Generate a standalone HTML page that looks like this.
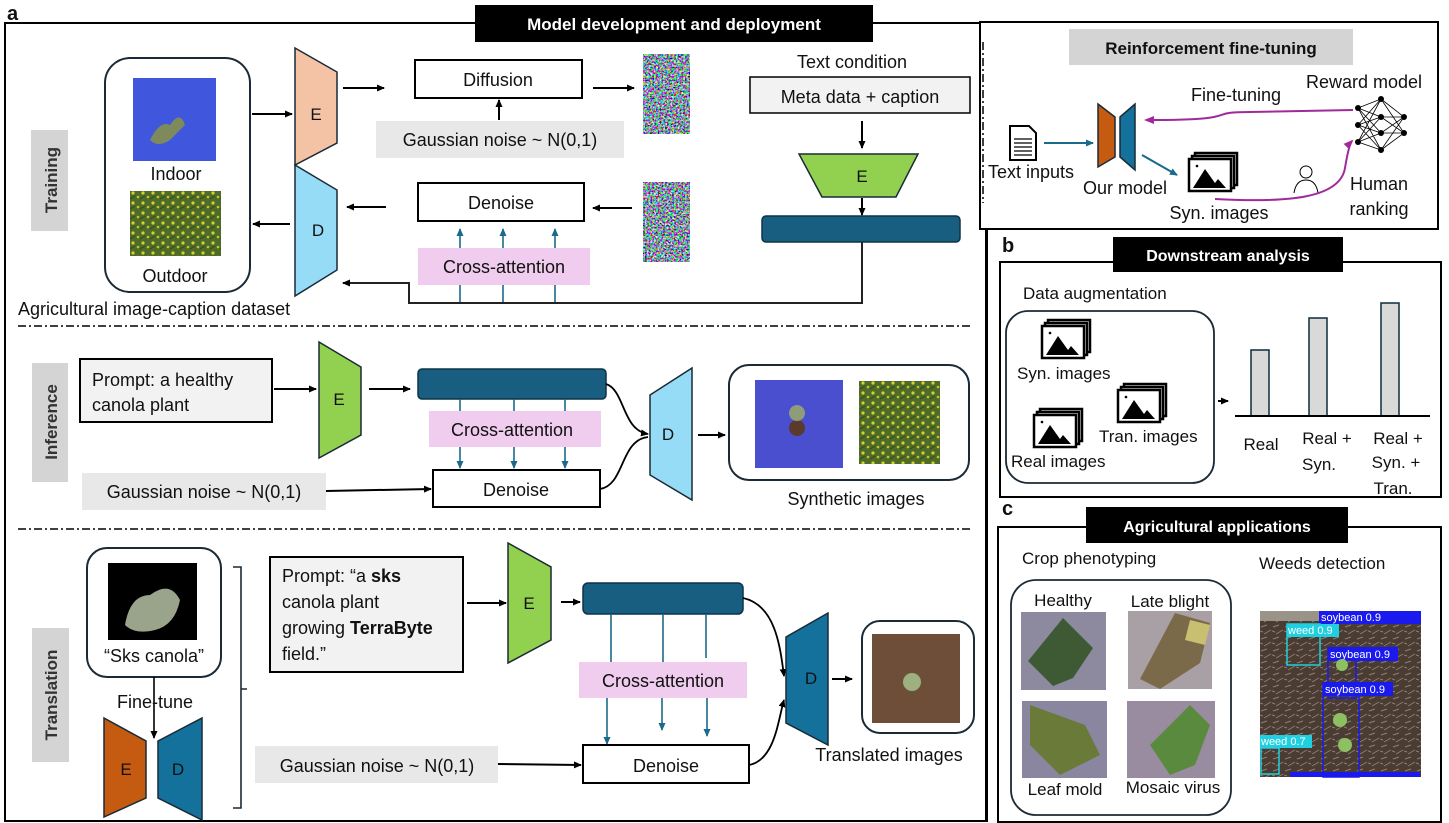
<!DOCTYPE html>
<html><head><meta charset="utf-8"><style>
html,body{margin:0;padding:0;background:#fff}
svg{display:block}
text{font-family:"Liberation Sans",sans-serif;fill:#111}
.t{font-size:17px}
.b{font-weight:bold}
.n{font-size:18px}
</style></head><body>
<svg width="1449" height="823" viewBox="0 0 1449 823" xmlns="http://www.w3.org/2000/svg">
<defs>
<marker id="ak" markerWidth="8" markerHeight="8" refX="7" refY="4" orient="auto" markerUnits="userSpaceOnUse"><path d="M0,0.5 L8,4 L0,7.5 Z" fill="#000"/></marker>
<marker id="ab" markerWidth="8" markerHeight="8" refX="7" refY="4" orient="auto" markerUnits="userSpaceOnUse"><path d="M0,0.5 L8,4 L0,7.5 Z" fill="#1a6a8c"/></marker>
<marker id="ap" markerWidth="10" markerHeight="10" refX="8" refY="5" orient="auto" markerUnits="userSpaceOnUse"><path d="M0,1 L10,5 L0,9 Z" fill="#a02a9a"/></marker>
<filter id="noise" x="0" y="0" width="100%" height="100%"><feTurbulence type="fractalNoise" baseFrequency="0.55" numOctaves="2" seed="3"/><feColorMatrix type="matrix" values="4 -1 0 0 -1.2  -1 4 0 0 -1.1  0 -1 4 0 -1.0  0 0 0 0 1"/></filter>
<pattern id="soil" width="12" height="12" patternUnits="userSpaceOnUse"><rect width="12" height="12" fill="#4a3c33"/><path d="M1,3 l6,-2 M4,10 l7,-4 M0,7 l3,1" stroke="#8d7e70" stroke-width="1"/></pattern>
<pattern id="flow" width="10" height="10" patternUnits="userSpaceOnUse"><rect width="10" height="10" fill="#4e6b2a"/><circle cx="3" cy="3" r="1.6" fill="#d6d02a"/><circle cx="8" cy="7" r="1.3" fill="#c6c425"/><path d="M0,9 l5,-3" stroke="#2f4a1a"/></pattern>
<g id="imgs"><rect x="6" y="0" width="42" height="32" fill="#fff" stroke="#000" stroke-width="2.5"/><rect x="3" y="3" width="42" height="32" fill="#fff" stroke="#000" stroke-width="2.5"/><rect x="0" y="6" width="42" height="32" fill="#fff" stroke="#000" stroke-width="2.5"/><path d="M4,35 L16,16 L26,30 L29,26 L37,35 Z" fill="#000"/><circle cx="8" cy="13" r="1.3" fill="#000"/></g>
</defs>

<text x="7" y="20" style="font-size:20px" class="b">a</text>
<path d="M5,822 V23 H980" fill="none" stroke="#000" stroke-width="2"/>
<path d="M5,821 H987 V229" fill="none" stroke="#000" stroke-width="2"/>
<rect x="475" y="5" width="398" height="37" fill="#000"/>
<text x="674" y="30" text-anchor="middle" class="b" style="fill:#fff;font-size:17px">Model development and deployment</text>
<line x1="983" y1="42" x2="983" y2="203" stroke="#000" stroke-width="1.5" stroke-dasharray="8,3,2,3"/>
<line x1="18" y1="326" x2="970" y2="326" stroke="#000" stroke-width="1.5" stroke-dasharray="8,3,2,3"/>
<line x1="18" y1="529" x2="970" y2="529" stroke="#000" stroke-width="1.5" stroke-dasharray="8,3,2,3"/>

<rect x="31" y="130" width="37" height="101" fill="#d4d4d4"/>
<text transform="translate(57,180) rotate(-90)" text-anchor="middle" class="b" style="font-size:17px;fill:#333">Training</text>
<rect x="105" y="58" width="145" height="234" rx="25" fill="#fff" stroke="#1a2a36" stroke-width="2"/>
<rect x="133" y="78" width="83" height="83" fill="#3f56dd"/>
<path d="M150,140 q10,-20 20,-15 q10,-15 15,0 q-10,10 -15,15 q-12,8 -20,0z" fill="#7e8a5c"/>
<text x="176" y="180" text-anchor="middle" class="n">Indoor</text>
<rect x="130" y="191" width="91" height="65" fill="url(#flow)"/>
<text x="175" y="282" text-anchor="middle" class="n">Outdoor</text>
<text x="18" y="315" class="n">Agricultural image-caption dataset</text>
<polygon points="295,48 337,72 337,143 295,165" fill="#f4c3a6" stroke="#1a2a36" stroke-width="1.5"/>
<polygon points="295,165 337,190 337,270 295,296" fill="#97dcf6" stroke="#1a2a36" stroke-width="1.5"/>
<text x="316" y="120" text-anchor="middle" class="t">E</text>
<text x="318" y="236" text-anchor="middle" class="t">D</text>
<line x1="252" y1="114" x2="292" y2="114" stroke="#000" stroke-width="2" marker-end="url(#ak)"/>
<line x1="290" y1="224" x2="253" y2="224" stroke="#000" stroke-width="2" marker-end="url(#ak)"/>
<line x1="343" y1="88" x2="384" y2="88" stroke="#000" stroke-width="2" marker-end="url(#ak)"/>
<rect x="415" y="60" width="167" height="38" fill="#fff" stroke="#000" stroke-width="2"/>
<text x="498" y="86" text-anchor="middle" class="n">Diffusion</text>
<rect x="376" y="121" width="248" height="37" fill="#e8e8e8"/>
<text x="500" y="146" text-anchor="middle" class="n">Gaussian noise ~ N(0,1)</text>
<line x1="499" y1="120" x2="499" y2="100" stroke="#000" stroke-width="2" marker-end="url(#ak)"/>
<line x1="593" y1="88" x2="634" y2="88" stroke="#000" stroke-width="2" marker-end="url(#ak)"/>
<rect x="643" y="54" width="47" height="80" filter="url(#noise)"/>
<rect x="643" y="182" width="47" height="80" filter="url(#noise)"/>
<line x1="632" y1="208" x2="593" y2="208" stroke="#000" stroke-width="2" marker-end="url(#ak)"/>
<rect x="418" y="183" width="166" height="38" fill="#fff" stroke="#000" stroke-width="2"/>
<text x="501" y="209" text-anchor="middle" class="n">Denoise</text>
<line x1="386" y1="207" x2="347" y2="207" stroke="#000" stroke-width="2" marker-end="url(#ak)"/>
<rect x="418" y="248" width="172" height="37" fill="#f0cdef"/>
<text x="504" y="273" text-anchor="middle" class="n">Cross-attention</text>
<g stroke="#1a6a8c" stroke-width="1.6">
<line x1="460" y1="248" x2="460" y2="229" marker-end="url(#ab)"/><line x1="503" y1="248" x2="503" y2="229" marker-end="url(#ab)"/><line x1="555" y1="248" x2="555" y2="229" marker-end="url(#ab)"/>
<line x1="460" y1="285" x2="460" y2="303"/><line x1="503" y1="285" x2="503" y2="303"/><line x1="555" y1="285" x2="555" y2="303"/>
</g>
<path d="M862,242 V303 H409 V283 H343" fill="none" stroke="#222" stroke-width="2" marker-end="url(#ak)"/>
<text x="852" y="68" text-anchor="middle" class="n">Text condition</text>
<rect x="750" y="77" width="220" height="36" fill="#f2f2f2" stroke="#000" stroke-width="1.5"/>
<text x="860" y="103" text-anchor="middle" class="n">Meta data + caption</text>
<line x1="862" y1="121" x2="862" y2="148" stroke="#000" stroke-width="2" marker-end="url(#ak)"/>
<polygon points="799,154 918,154 896,197 822,197" fill="#92d050" stroke="#1a2a36" stroke-width="1.5"/>
<text x="862" y="182" text-anchor="middle" class="t">E</text>
<line x1="862" y1="198" x2="862" y2="215" stroke="#000" stroke-width="2" marker-end="url(#ak)"/>
<rect x="762" y="216" width="198" height="26" rx="4" fill="#175e80" stroke="#0d3347" stroke-width="1.5"/>

<rect x="32" y="363" width="36" height="119" fill="#d4d4d4"/>
<text transform="translate(57,422) rotate(-90)" text-anchor="middle" class="b" style="font-size:17px;fill:#333">Inference</text>
<rect x="80" y="359" width="192" height="63" fill="#f2f2f2" stroke="#000" stroke-width="2"/>
<text x="92" y="386" class="n">Prompt: a healthy</text>
<text x="92" y="411" class="n">canola plant</text>
<line x1="274" y1="389" x2="316" y2="389" stroke="#000" stroke-width="2" marker-end="url(#ak)"/>
<polygon points="319,342 361,367 361,435 319,458" fill="#92d050" stroke="#1a2a36" stroke-width="1.5"/>
<text x="339" y="405" text-anchor="middle" class="t">E</text>
<line x1="369" y1="389" x2="410" y2="389" stroke="#000" stroke-width="2" marker-end="url(#ak)"/>
<rect x="418" y="369" width="188" height="30" rx="4" fill="#175e80" stroke="#0d3347" stroke-width="1.5"/>
<g stroke="#1a6a8c" stroke-width="1.6">
<line x1="460" y1="399" x2="460" y2="411"/><line x1="514" y1="399" x2="514" y2="411"/><line x1="565" y1="399" x2="565" y2="411"/>
<line x1="460" y1="447" x2="460" y2="468" marker-end="url(#ab)"/><line x1="514" y1="447" x2="514" y2="468" marker-end="url(#ab)"/><line x1="565" y1="447" x2="565" y2="468" marker-end="url(#ab)"/>
</g>
<rect x="429" y="411" width="172" height="36" fill="#f0cdef"/>
<text x="512" y="436" text-anchor="middle" class="n">Cross-attention</text>
<rect x="433" y="470" width="167" height="37" fill="#fff" stroke="#000" stroke-width="2"/>
<text x="516" y="496" text-anchor="middle" class="n">Denoise</text>
<rect x="82" y="473" width="244" height="37" fill="#e8e8e8"/>
<text x="204" y="498" text-anchor="middle" class="n">Gaussian noise ~ N(0,1)</text>
<line x1="326" y1="491" x2="431" y2="489" stroke="#000" stroke-width="2" marker-end="url(#ak)"/>
<path d="M606,384 C625,390 622,430 648,434" fill="none" stroke="#000" stroke-width="1.8" marker-end="url(#ak)"/>
<path d="M600,489 C625,485 620,440 648,437" fill="none" stroke="#000" stroke-width="1.8"/>
<polygon points="650,395 692,368 692,500 650,475" fill="#97dcf6" stroke="#1a2a36" stroke-width="1.5"/>
<text x="668" y="440" text-anchor="middle" class="t">D</text>
<line x1="698" y1="435" x2="725" y2="435" stroke="#000" stroke-width="2" marker-end="url(#ak)"/>
<rect x="729" y="365" width="240" height="115" rx="20" fill="#fff" stroke="#1a2a36" stroke-width="2"/>
<rect x="755" y="380" width="88" height="88" fill="#4a4fcf"/>
<circle cx="797" cy="428" r="8" fill="#5a3a2a"/><circle cx="797" cy="413" r="8" fill="#8e9c7a"/>
<rect x="859" y="381" width="81" height="83" fill="url(#flow)"/>
<text x="856" y="505" text-anchor="middle" class="n">Synthetic images</text>

<rect x="32" y="628" width="37" height="134" fill="#d4d4d4"/>
<text transform="translate(57,695) rotate(-90)" text-anchor="middle" class="b" style="font-size:17px;fill:#333">Translation</text>
<rect x="87" y="548" width="134" height="129" rx="20" fill="#fff" stroke="#1a2a36" stroke-width="2"/>
<rect x="108" y="563" width="89" height="77" fill="#000"/>
<path d="M125,625 q5,-30 25,-30 q20,-15 30,5 q-5,25 -25,30 q-20,5 -30,-5z" fill="#9aa48a"/>
<text x="154" y="662" text-anchor="middle" class="n">“Sks canola”</text>
<line x1="154" y1="677" x2="154" y2="738" stroke="#000" stroke-width="1.6" marker-end="url(#ak)"/>
<text x="155" y="708" text-anchor="middle" class="n">Fine-tune</text>
<polygon points="104,718 146,741 146,798 104,817" fill="#c55a11" stroke="#1a2a36" stroke-width="1.5"/>
<polygon points="158,741 202,718 202,820 158,798" fill="#13719b" stroke="#1a2a36" stroke-width="1.5"/>
<text x="126" y="775" text-anchor="middle" class="t">E</text>
<text x="178" y="775" text-anchor="middle" class="t">D</text>
<path d="M233,567 h8 V808 h-8 M241,689 h6" fill="none" stroke="#1a2a36" stroke-width="1.6"/>
<rect x="270" y="557" width="193" height="115" fill="#f2f2f2" stroke="#000" stroke-width="2"/>
<text x="282" y="582" class="n">Prompt: “a <tspan class="b">sks</tspan></text>
<text x="282" y="608" class="n">canola plant</text>
<text x="282" y="634" class="n">growing <tspan class="b">TerraByte</tspan></text>
<text x="282" y="660" class="n">field.”</text>
<line x1="467" y1="603" x2="506" y2="603" stroke="#000" stroke-width="2" marker-end="url(#ak)"/>
<polygon points="508,543 551,567 551,640 508,663" fill="#92d050" stroke="#1a2a36" stroke-width="1.5"/>
<text x="529" y="609" text-anchor="middle" class="t">E</text>
<line x1="561" y1="602" x2="580" y2="602" stroke="#000" stroke-width="2" marker-end="url(#ak)"/>
<rect x="583" y="583" width="160" height="31" rx="5" fill="#175e80" stroke="#0d3347" stroke-width="1.5"/>
<g stroke="#1a6a8c" stroke-width="1.6">
<line x1="611" y1="614" x2="611" y2="662"/><line x1="663" y1="614" x2="663" y2="662"/><line x1="706" y1="614" x2="706" y2="658"/>
<line x1="607" y1="698" x2="607" y2="744" marker-end="url(#ab)"/><line x1="662" y1="698" x2="662" y2="730" marker-end="url(#ab)"/><line x1="707" y1="698" x2="707" y2="736" marker-end="url(#ab)"/>
</g>
<rect x="579" y="662" width="168" height="36" fill="#f0cdef"/>
<text x="663" y="687" text-anchor="middle" class="n">Cross-attention</text>
<rect x="583" y="745" width="166" height="38" fill="#fff" stroke="#000" stroke-width="2"/>
<text x="666" y="772" text-anchor="middle" class="n">Denoise</text>
<rect x="255" y="746" width="243" height="37" fill="#e8e8e8"/>
<text x="377" y="772" text-anchor="middle" class="n">Gaussian noise ~ N(0,1)</text>
<line x1="498" y1="764" x2="581" y2="765" stroke="#000" stroke-width="2" marker-end="url(#ak)"/>
<path d="M743,598 C775,605 780,645 784,676" fill="none" stroke="#000" stroke-width="1.8" marker-end="url(#ak)"/>
<path d="M749,765 C775,760 778,720 784,700" fill="none" stroke="#000" stroke-width="1.8" marker-end="url(#ak)"/>
<polygon points="786,637 828,613 828,745 786,723" fill="#13719b" stroke="#1a2a36" stroke-width="1.5"/>
<text x="811" y="684" text-anchor="middle" class="t">D</text>
<line x1="832" y1="679" x2="852" y2="679" stroke="#000" stroke-width="2" marker-end="url(#ak)"/>
<rect x="862" y="621" width="112" height="112" rx="18" fill="#fff" stroke="#1a2a36" stroke-width="2"/>
<rect x="872" y="634" width="88" height="89" fill="#6e4e38"/>
<circle cx="912" cy="682" r="9" fill="#9cb080"/>
<text x="889" y="761" text-anchor="middle" class="n">Translated images</text>

<rect x="980" y="22" width="458" height="207" fill="none" stroke="#000" stroke-width="2"/>
<rect x="1069" y="29" width="284" height="36" fill="#d4d4d4"/>
<text x="1211" y="54" text-anchor="middle" class="b" style="font-size:17px">Reinforcement fine-tuning</text>
<path d="M1010,126 h19 l7,7 v27 h-26 z" fill="#fff" stroke="#000" stroke-width="2"/>
<path d="M1014,139 h18 M1014,143 h18 M1014,147 h18 M1014,151 h18 M1014,155 h18" stroke="#000" stroke-width="1.3"/>
<text x="988" y="178" class="n">Text inputs</text>
<line x1="1044" y1="143" x2="1093" y2="143" stroke="#1a6a8c" stroke-width="2" marker-end="url(#ab)"/>
<polygon points="1098,104 1115,117 1115,157 1098,167" fill="#c55a11" stroke="#1a2a36" stroke-width="1.5"/>
<polygon points="1120,117 1135,104 1135,170 1120,157" fill="#13719b" stroke="#1a2a36" stroke-width="1.5"/>
<text x="1125" y="194" text-anchor="middle" class="n">Our model</text>
<line x1="1142" y1="155" x2="1177" y2="175" stroke="#1a6a8c" stroke-width="2" marker-end="url(#ab)"/>
<use href="#imgs" x="1189" y="153"/>
<text x="1219" y="219" text-anchor="middle" class="n">Syn. images</text>
<path d="M1353,110 L1250,112 C1200,112 1250,120 1146,120" fill="none" stroke="#a02a9a" stroke-width="2" marker-end="url(#ap)"/>
<text x="1236" y="101" text-anchor="middle" class="n">Fine-tuning</text>
<text x="1364" y="88" text-anchor="middle" class="n">Reward model</text>
<g stroke="#000" stroke-width="0.8">
<path d="M1358,108 L1381,99 M1358,108 L1381,117 M1358,108 L1381,133 M1358,108 L1381,150 M1358,125 L1381,99 M1358,125 L1381,117 M1358,125 L1381,133 M1358,125 L1381,150 M1358,142 L1381,99 M1358,142 L1381,117 M1358,142 L1381,133 M1358,142 L1381,150 M1381,99 L1404,117 M1381,117 L1404,117 M1381,133 L1404,117 M1381,150 L1404,117 M1381,99 L1404,133 M1381,117 L1404,133 M1381,133 L1404,133 M1381,150 L1404,133"/>
</g>
<g fill="#000"><circle cx="1358" cy="108" r="3"/><circle cx="1358" cy="125" r="3"/><circle cx="1358" cy="142" r="3"/><circle cx="1381" cy="99" r="3"/><circle cx="1381" cy="117" r="3"/><circle cx="1381" cy="133" r="3"/><circle cx="1381" cy="150" r="3"/><circle cx="1404" cy="117" r="3"/><circle cx="1404" cy="133" r="3"/></g>
<circle cx="1306" cy="172" r="6" fill="none" stroke="#000" stroke-width="1"/>
<path d="M1294,193 q2,-13 12,-13 q10,0 12,13" fill="none" stroke="#000" stroke-width="1"/>
<path d="M1215,199 C1290,203 1340,198 1345,168 C1348,150 1350,143 1352,141" fill="none" stroke="#a02a9a" stroke-width="2" marker-end="url(#ap)"/>
<text x="1379" y="190" text-anchor="middle" class="n">Human</text>
<text x="1379" y="215" text-anchor="middle" class="n">ranking</text>

<line x1="986" y1="229" x2="986" y2="822" stroke="#000" stroke-width="2"/>
<text x="1002" y="252" style="font-size:20px" class="b">b</text>
<rect x="1000" y="262" width="441" height="235" fill="none" stroke="#000" stroke-width="2"/>
<rect x="1113" y="237" width="230" height="35" fill="#000"/>
<text x="1228" y="261" text-anchor="middle" class="b" style="fill:#fff;font-size:16px">Downstream analysis</text>
<text x="1023" y="299" class="t">Data augmentation</text>
<rect x="1006" y="311" width="208" height="172" rx="22" fill="#fff" stroke="#1a2a36" stroke-width="1.8"/>
<use href="#imgs" x="1042" y="320"/>
<text x="1017" y="379" class="t">Syn. images</text>
<use href="#imgs" x="1118" y="384"/>
<text x="1099" y="442" class="t">Tran. images</text>
<use href="#imgs" x="1034" y="409"/>
<text x="1011" y="467" class="t">Real images</text>
<line x1="1218" y1="401" x2="1228" y2="401" stroke="#000" stroke-width="2" marker-end="url(#ak)"/>
<g fill="#d9d9d9" stroke="#0d2a3a" stroke-width="1.5">
<rect x="1251" y="350" width="18" height="66"/><rect x="1309" y="318" width="18" height="98"/><rect x="1381" y="303" width="18" height="113"/>
</g>
<line x1="1235" y1="416" x2="1430" y2="416" stroke="#000" stroke-width="2"/>
<text x="1261" y="450" text-anchor="middle" class="t">Real</text>
<text x="1327" y="444" text-anchor="middle" class="t">Real +</text>
<text x="1319" y="470" text-anchor="middle" class="t">Syn.</text>
<text x="1398" y="444" text-anchor="middle" class="t">Real +</text>
<text x="1396" y="468" text-anchor="middle" class="t">Syn. +</text>
<text x="1393" y="494" text-anchor="middle" class="t">Tran.</text>

<text x="1002" y="515" style="font-size:20px" class="b">c</text>
<rect x="998" y="527" width="443" height="295" fill="none" stroke="#000" stroke-width="2"/>
<rect x="1086" y="507" width="262" height="36" fill="#000"/>
<text x="1217" y="532" text-anchor="middle" class="b" style="fill:#fff;font-size:16px">Agricultural applications</text>
<text x="1022" y="564" class="t">Crop phenotyping</text>
<text x="1259" y="569" class="t">Weeds detection</text>
<rect x="1011" y="580" width="220" height="235" rx="25" fill="#fff" stroke="#1a2a36" stroke-width="1.8"/>
<text x="1063" y="606" text-anchor="middle" class="t">Healthy</text>
<text x="1170" y="607" text-anchor="middle" class="t">Late blight</text>
<rect x="1021" y="612" width="85" height="78" fill="#8d8aa0"/><path d="M1063,618 l30,30 l-20,30 l-20,8 l-25,-25 z" fill="#3e5a34"/>
<rect x="1128" y="611" width="84" height="78" fill="#a8a0a5"/><path d="M1175,613 l35,10 l-10,40 l-40,26 l-20,-10 z" fill="#7a6a4a"/><path d="M1190,620 l20,5 l-5,20 l-20,-5z" fill="#c8c070"/>
<rect x="1022" y="701" width="85" height="77" fill="#8a86a0"/><path d="M1030,705 l55,20 l15,30 l-40,20 l-30,-30z" fill="#6a7a38"/>
<rect x="1127" y="701" width="88" height="77" fill="#9a8ca0"/><path d="M1190,705 l20,20 l-15,40 l-25,10 l-20,-30 z" fill="#5a8a3e"/>
<text x="1065" y="795" text-anchor="middle" class="t">Leaf mold</text>
<text x="1173" y="793" text-anchor="middle" class="t">Mosaic virus</text>
<rect x="1260" y="611" width="161" height="166" fill="url(#soil)"/>
<rect x="1260" y="611" width="161" height="10" fill="#9a9488"/>
<g>
<rect x="1319" y="611" width="102" height="13" fill="#1a1aee"/><text x="1321" y="621" style="fill:#fff;font-size:11px">soybean 0.9</text>
<rect x="1287" y="624" width="33" height="41" fill="none" stroke="#20d0e0" stroke-width="1.5"/>
<rect x="1287" y="624" width="52" height="13" fill="#20d0e0"/><text x="1288" y="634" style="fill:#fff;font-size:11px">weed 0.9</text>
<rect x="1328" y="648" width="28" height="50" fill="none" stroke="#1a1aee" stroke-width="1.5"/>
<rect x="1328" y="647" width="70" height="14" fill="#1a1aee"/><text x="1330" y="658" style="fill:#fff;font-size:11px">soybean 0.9</text>
<rect x="1323" y="683" width="36" height="94" fill="none" stroke="#1a1aee" stroke-width="1.5"/>
<rect x="1323" y="682" width="70" height="14" fill="#1a1aee"/><text x="1325" y="693" style="fill:#fff;font-size:11px">soybean 0.9</text>
<rect x="1261" y="748" width="18" height="26" fill="none" stroke="#20d0e0" stroke-width="1.5"/>
<rect x="1260" y="735" width="52" height="13" fill="#20d0e0"/><text x="1261" y="745" style="fill:#fff;font-size:11px">weed 0.7</text>
<rect x="1290" y="772" width="130" height="5" fill="#1a1aee"/>
</g>
<circle cx="1340" cy="720" r="7" fill="#8cc060"/><circle cx="1345" cy="745" r="7" fill="#8cc060"/><circle cx="1342" cy="665" r="6" fill="#8cc060"/>
</svg>
</body></html>
